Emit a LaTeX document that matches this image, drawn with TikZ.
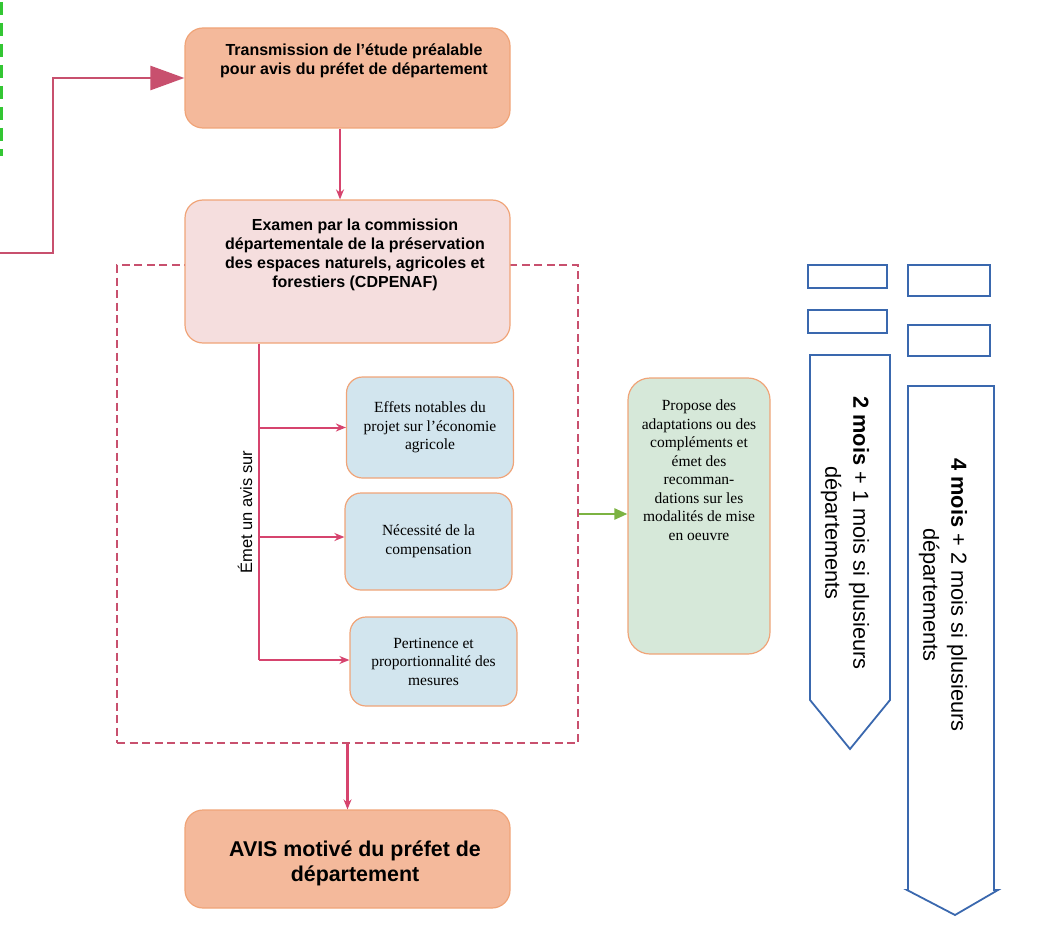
\documentclass[tikz,border=0pt]{standalone}
\usepackage{fontspec}
\setmainfont{Liberation Serif}
\setsansfont{Liberation Sans}
\usetikzlibrary{arrows.meta}
\definecolor{SaumonClr}{HTML}{F4B99B}
\definecolor{RoseClr}{HTML}{F5DEDE}
\definecolor{BleuClr}{HTML}{D2E5EE}
\definecolor{VertClr}{HTML}{D6E8D9}
\definecolor{BordClr}{HTML}{F0A478}
\definecolor{LienClr}{HTML}{D6446E}
\definecolor{CadreClr}{HTML}{C8506E}
\definecolor{FlecheClr}{HTML}{3A68AE}
\definecolor{PousseClr}{HTML}{7CB342}
\definecolor{TiretClr}{HTML}{33C633}

\begin{document}
\begin{tikzpicture}[x=1pt,y=-1pt,
  boite/.style={draw=BordClr,line width=1.2pt,rounded corners=18pt,inner sep=0pt},
  etape/.style={boite,fill=SaumonClr,minimum width=325pt},
  critere/.style={boite,fill=BleuClr,minimum width=167pt,rounded corners=16pt,
    font=\fontsize{15.5}{18.5}\selectfont,align=center},
  titre/.style={font=\sffamily\bfseries\fontsize{16}{18.8}\selectfont,align=center,inner sep=0pt},
  lien/.style={draw=LienClr,line width=2pt,-{Stealth[length=10pt,width=8pt]}},
  duree/.style={font=\sffamily\fontsize{21.8}{28}\selectfont,align=center,rotate=-90,inner sep=0pt},
  bloc/.style={draw=FlecheClr,line width=1.8pt}]
\useasboundingbox (0,0) rectangle (1048,928);

\draw[TiretClr,line width=3pt,dash pattern=on 13pt off 8pt] (1,2) -- (1,156);

\node[boite,draw=CadreClr,line width=2.6pt,dash pattern=on 8pt off 4.5pt,rounded corners=0pt,
  minimum width=461pt,minimum height=478pt] (cadre) at (347.5,504) {};

\node[etape,minimum height=100pt] (trans) at (347.5,78) {};
\node[titre] (transtxt) at (354,61) {Transmission de l’étude préalable\\pour avis du préfet de département};

\node[boite,fill=RoseClr,minimum width=325pt,minimum height=143pt] (exam) at (347.5,271.5) {};
\node[titre] (examtxt) at (355,255) {Examen par la commission\\départementale de la préservation\\des espaces naturels, agricoles et\\forestiers (CDPENAF)};

\node[critere,minimum height=101pt] (effets) at (430,427.5) {Effets notables du\\projet sur l’économie\\agricole};
\node[critere,minimum height=97pt] (compens) at (428.5,541.5) {Nécessité de la\\compensation};
\node[critere,minimum height=89pt] (mesures) at (433.5,661.5) {Pertinence et\\proportionnalité des\\mesures};

\node[boite,fill=VertClr,minimum width=142pt,minimum height=276pt,rounded corners=22pt] (propose) at (699,516) {};
\node[font=\fontsize{15.5}{18.5}\selectfont,align=center,inner sep=0pt] (proposetxt) at (699,470)
  {Propose des\\adaptations ou des\\compléments et\\émet des\\recomman-\\dations sur les\\modalités de mise\\en oeuvre};

\node[etape,minimum height=98pt] (avis) at (347.5,859) {};
\node[titre,font=\sffamily\bfseries\fontsize{21.4}{25}\selectfont] (avistxt) at (355,863) {AVIS motivé du préfet de\\département};

\coordinate (entree) at (0,253);
\coordinate (b1) at (259,427.5);
\coordinate (b2) at (259,537);
\coordinate (b3) at (259,660);

\draw[draw=CadreClr,line width=2.5pt,-{Triangle[length=34pt,width=24pt]}] (entree) -- ++(53,0) |- (trans.west);
\draw[lien,line width=2.2pt] ([xshift=-7.5pt]trans.south) -- ([xshift=-7.5pt]exam.north);
\draw[draw=LienClr,line width=2.2pt] (exam.south -| b3) -- (b3);
\draw[lien] (b1) -- (b1 -| effets.west);
\draw[lien] (b2) -- (b2 -| compens.west);
\draw[lien] (b3) -- (b3 -| mesures.west);
\draw[lien,line width=2.2pt] (cadre.south) -- (avis.north);
\draw[draw=PousseClr,line width=2.5pt,-{Triangle[length=13pt,width=11pt]}] (cadre.east |- 0,514) -- (propose.west |- 0,514);

\node[font=\sffamily\fontsize{16.5}{19}\selectfont,rotate=90,inner sep=0pt] (emet) at (245,512) {Émet un avis sur};

% delais
\draw[bloc] (808,265) rectangle (887,288);
\draw[bloc] (808,310) rectangle (887,333);
\draw[bloc] (908,265) rectangle (990,296);
\draw[bloc] (908,325) rectangle (990,356);
\draw[bloc] (810,355) -- (890,355) -- (890,700) -- (850,749) -- (810,700) -- cycle;
\draw[bloc] (908,386) -- (994,386) -- (994,890) -- (998,890) -- (955,915) -- (907,890) -- (908,890) -- cycle;
\node[duree] (deux) at (845,533) {\textbf{2 mois} + 1 mois si plusieurs\\départements};
\node[duree] (quatre) at (943,595) {\textbf{4 mois} + 2 mois si plusieurs\\départements};

\end{tikzpicture}
\end{document}
